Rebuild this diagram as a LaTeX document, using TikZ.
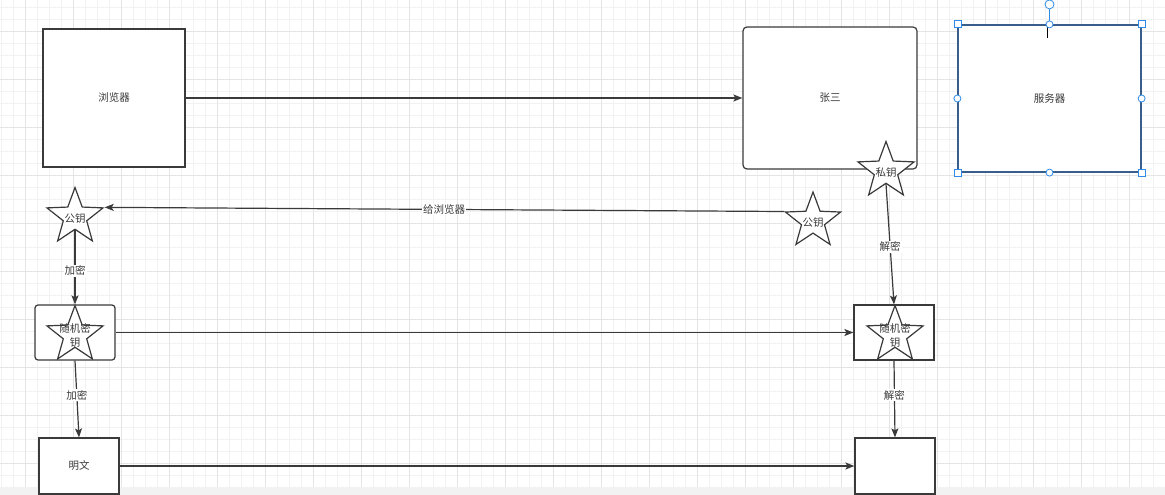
\documentclass[tikz,border=0pt]{standalone}
\usepackage{fontspec}
\newfontfamily\cjk{Noto Sans CJK SC}
\usetikzlibrary{arrows.meta,shapes.geometric}
\definecolor{inkgray}{HTML}{3A3A3A}
\definecolor{gridminor}{HTML}{F2F2F2}
\definecolor{gridmajor}{HTML}{E4E4E4}
\definecolor{selblue}{HTML}{2F8BE6}
\definecolor{selborder}{HTML}{3A5E8C}

\begin{document}
\begin{tikzpicture}[
  x=1pt, y=-1pt,
  font=\cjk\fontsize{10.5}{13}\selectfont,
  >={Stealth[length=9pt,width=7pt,inset=2pt]},
  box/.style={draw=inkgray, line width=1.2pt, fill=white, text=inkgray,
    inner sep=0pt},
  keystar/.style={star, star points=5, star point ratio=2.4, draw=inkgray,
    line width=1.2pt, fill=white, minimum size=59pt, inner sep=0pt},
  arrow/.style={->, line width=1.2pt, inkgray},
  tag/.style={fill=white, text=inkgray, inner sep=1pt},
  handle/.style={draw=selblue, fill=white, line width=0.8pt}
]
  \useasboundingbox (0,0) rectangle (1165,495);

  % canvas grid
  \foreach \gx in {1.3,13.3,...,1165} \draw[gridminor, line width=0.7pt] (\gx,0) -- (\gx,495);
  \foreach \gy in {7.3,19.3,...,495} \draw[gridminor, line width=0.7pt] (0,\gy) -- (1165,\gy);
  \foreach \gx in {25.3,73.3,...,1165} \draw[gridmajor, line width=0.7pt] (\gx,0) -- (\gx,495);
  \foreach \gy in {31.3,79.3,...,495} \draw[gridmajor, line width=0.7pt] (0,\gy) -- (1165,\gy);
  \fill[gridminor] (0,487) rectangle (1165,495);

  % top row
  \node[box, minimum width=142pt, minimum height=138pt] (browser) at (114,98) {浏览器};
  \node[box, rounded corners=4pt, minimum width=174pt, minimum height=142pt] (zhang) at (830,98) {张三};
  \node[box, draw=selborder, minimum width=183pt, minimum height=147pt] (server) at (1049.5,98.5) {服务器};

  % keys
  \node[keystar, label={[name=pubLtxt, text=inkgray, yshift=-1.5pt]center:公钥}] (pubL) at (75,217) {};
  \node[keystar, minimum size=58pt, label={[name=pubRtxt, text=inkgray, yshift=-1.5pt]center:公钥}] (pubR) at (813,221) {};
  \node[keystar, label={[name=privtxt, text=inkgray, yshift=-1.5pt]center:私钥}] (priv) at (886,171) {};

  % random key boxes
  \node[box, rounded corners=3pt, minimum width=80pt, minimum height=55pt] (randLbox) at (75,332.5) {};
  \node[box, minimum width=80pt, minimum height=55pt] (randRbox) at (894,332.5) {};
  \node[keystar, label={[name=randLtxt, text=inkgray, align=center, font=\cjk\fontsize{10.5}{14}\selectfont]center:随机密\\钥}] (randL) at (75,335) {};
  \node[keystar, label={[name=randRtxt, text=inkgray, align=center, font=\cjk\fontsize{10.5}{14}\selectfont]center:随机密\\钥}] (randR) at (895,335) {};

  % bottom row
  \node[box, minimum width=80pt, minimum height=56pt] (plain) at (79,466) {明文};
  \node[box, minimum width=80pt, minimum height=56pt] (cipher) at (895,466) {};

  % connectors
  \draw[arrow] (browser.east) -- (zhang.west);
  \draw[arrow] (pubR.outer point 2) -- node[tag] (giveTag) {给浏览器} (pubL.outer point 5);
  \draw[arrow] (pubL.south) -- node[tag, pos=0.55] (encA) {加密} (randLbox.north);
  \draw[arrow] (priv.south) -- node[tag, pos=0.52] (decA) {解密} (randRbox.north);
  \draw[arrow] (randLbox.east) -- (randRbox.west);
  \draw[arrow] (randLbox.south) -- node[tag, pos=0.45] (encB) {加密} (plain.north);
  \draw[arrow] (randRbox.south) -- node[tag, pos=0.45] (decB) {解密} (cipher.north);
  \draw[arrow] (plain.east) -- (cipher.west);

  % selection handles on server
  \draw[selblue, line width=0.8pt] (server.north) -- ++(0,-15.5);
  \draw[handle] (server.north) ++(0,-20) circle (4.5pt);
  \draw[black, line width=0.8pt] (1047,25) -- (1047,38);
  \foreach \corner in {north west, north east, south west, south east}
    \draw[handle] (server.\corner) ++(-3.5,-3.5) rectangle ++(7,7);
  \foreach \side in {north, south, west, east}
    \draw[handle] (server.\side) circle (3.5pt);
\end{tikzpicture}
\end{document}
